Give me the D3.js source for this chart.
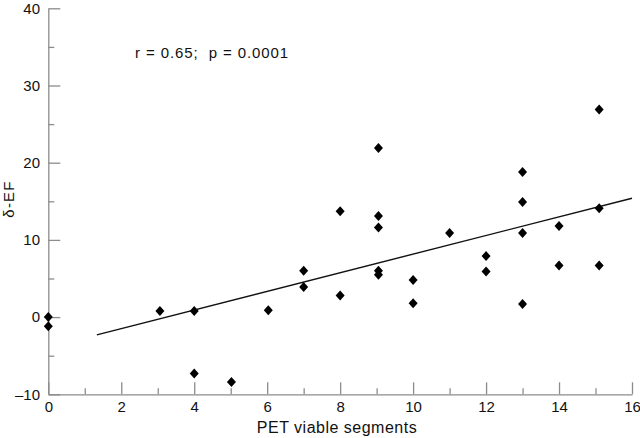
<!DOCTYPE html>
<html>
<head>
<meta charset="utf-8">
<script src="https://cdn.jsdelivr.net/npm/d3@7"></script>
<style>
  body { margin: 0; background: #fff; }
  svg text { font-family: "Liberation Sans", Arial, sans-serif; fill: #111; }
  .axis path, .axis line { stroke: #8c8c8c; stroke-width: 1.3; }
</style>
</head>
<body>
<svg id="chart" width="640" height="438"></svg>
<script>
// PET viable segments vs change in EF
var segX = [0, 0, 3.06, 4, 4, 5.02, 6.03, 7, 7, 8, 8, 9.05, 9.05, 9.05, 9.05, 9.05,
            10, 10, 11, 12, 12, 13, 13, 13, 13, 14, 14, 15.1, 15.1, 15.1];
var deltaEF = [0, -1.2, 0.8, 0.8, -7.3, -8.4, 0.9, 6, 3.9, 13.7, 2.8, 21.9, 13.1, 11.6, 6, 5.5,
               4.8, 1.8, 10.9, 7.9, 5.9, 18.8, 14.9, 10.9, 1.7, 11.8, 6.7, 26.9, 14.1, 6.7];
var fitX = [1.33, 16];
var fitY = [-2.3, 15.4];
var xMajor = [0, 2, 4, 6, 8, 10, 12, 14, 16];
var xMinor = [1, 3, 5, 7, 9, 11, 13, 15];
var yMajor = [-10, 0, 10, 20, 30, 40];
var yMinor = [-5, 5, 15, 25, 35];

var svg = d3.select("#chart");
var x = d3.scaleLinear().domain([0, 16]).range([48.3, 632]);
var y = d3.scaleLinear().domain([-10, 40]).range([394.3, 8.3]);

// x axis, ticks pointing up into the plot
var gx = svg.append("g").attr("class", "axis")
    .attr("transform", "translate(0," + y(-10) + ")");
gx.call(d3.axisBottom(x).tickValues(xMajor).tickSize(-12).tickSizeOuter(0).tickPadding(6.8)
    .tickFormat(d3.format("d")));
gx.append("g").call(d3.axisBottom(x).tickValues(xMinor).tickSize(-6).tickFormat(""))
    .select(".domain").remove();
gx.selectAll("text").style("font-size", "15px");

// y axis, ticks pointing right
var gy = svg.append("g").attr("class", "axis")
    .attr("transform", "translate(" + x(0) + ",0)");
gy.call(d3.axisLeft(y).tickValues(yMajor).tickSize(-12).tickSizeOuter(0).tickPadding(8.3)
    .tickFormat(function(d){ return d < 0 ? "\u2013" + Math.abs(d) : d; }));
gy.append("g").call(d3.axisLeft(y).tickValues(yMinor).tickSize(-6).tickFormat(""))
    .select(".domain").remove();
gy.selectAll("text").style("font-size", "15px");

// regression line
svg.append("line")
    .attr("x1", x(fitX[0])).attr("y1", y(fitY[0]))
    .attr("x2", x(fitX[1])).attr("y2", y(fitY[1]))
    .attr("stroke", "#111").attr("stroke-width", 1.4);

// diamond markers
svg.append("g").selectAll("path")
    .data(segX)
    .enter()
    .append("path")
    .attr("d", "M0,-5L4.5,0L0,5L-4.5,0Z")
    .attr("transform", function(d, i){ return "translate(" + x(d) + "," + y(deltaEF[i]) + ")"; })
    .attr("fill", "#000");

// titles
svg.append("text")
    .attr("x", 337).attr("y", 432.7)
    .attr("text-anchor", "middle")
    .style("font-size", "16px").style("letter-spacing", "0.5px")
    .text("PET viable segments");

svg.append("text")
    .attr("transform", "translate(13.5,199) rotate(-90)")
    .attr("text-anchor", "middle")
    .style("font-size", "15px").style("letter-spacing", "1.2px")
    .text("\u03b4-EF");

svg.append("text")
    .attr("x", 135).attr("y", 57.5)
    .style("font-size", "15px").style("letter-spacing", "0.9px").style("white-space", "pre")
    .text("r = 0.65;  p = 0.0001");
</script>
</body>
</html>
